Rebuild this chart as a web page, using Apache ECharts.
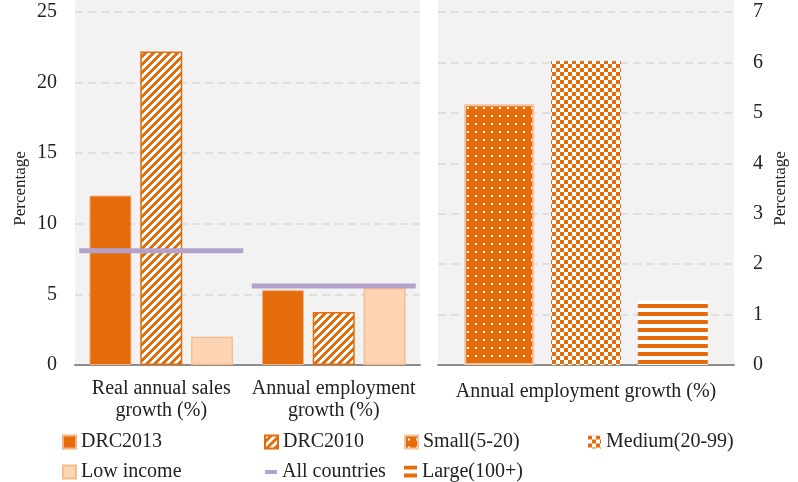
<!DOCTYPE html>
<html><head><meta charset="utf-8">
<script src="https://cdn.jsdelivr.net/npm/echarts@6/dist/echarts.min.js"></script>
<style>html,body{margin:0;padding:0;background:#fff}#c{width:798px;height:482px}</style>
</head><body><div id="c"></div>
<script>
// ---- data ----
const leftCategories = ['Real annual sales\ngrowth (%)', 'Annual employment\ngrowth (%)'];
const drc2013 = [12.0, 5.3];
const drc2010 = [22.2, 3.75];
const lowIncome = [2.0, 5.45];
const allCountries = [8.1, 5.6];
const rightCategories = ['Annual employment growth (%)'];
const small = [5.17];
const medium = [6.03];
const large = [1.28];
const leftTicks = {min: 0, max: 25, interval: 5};
const rightTicks = {min: 0, max: 7, interval: 1};

// ---- styles ----
const ORANGE = '#e46c0a';
const FONT = '"Liberation Serif", "DejaVu Serif", serif';

function tile(w, h, fn) {
  const c = document.createElement('canvas');
  c.width = w; c.height = h;
  const ctx = c.getContext('2d');
  for (let y = 0; y < h; y++) for (let x = 0; x < w; x++) {
    ctx.fillStyle = fn(x, y) ? ORANGE : '#ffffff';
    ctx.fillRect(x, y, 1, 1);
  }
  return {image: c, repeat: 'repeat'};
}
const hatch = tile(8, 8, (x, y) => ((x + y) % 8) >= 4);
const dots = tile(8, 8, (x, y) => !((x === 3 || x === 4) && (y === 3 || y === 4)));
const checker = tile(8, 8, (x, y) => ((Math.floor(x / 4) + Math.floor(y / 4)) % 2) === 0);
const stripes = tile(8, 8, (x, y) => y < 4);

const chart = echarts.init(document.getElementById('c'), null, {renderer: 'canvas'});

const txt = {fontFamily: FONT, fontSize: 20, color: '#222'};
function lg(name, left, top, extra) {
  const ts = {fontFamily: FONT, fontSize: 20, color: '#222'};
  return Object.assign({
    data: [{name: name, textStyle: ts, icon: 'rect'}], left: left, top: top, itemWidth: 13, itemHeight: 13, itemGap: 0,
    textStyle: ts, selectedMode: false, padding: 0
  }, extra || {});
}
const splitLine = {show: true, lineStyle: {color: '#d9d9d9', width: 1.5, type: [8, 5]}};

chart.setOption({
  animation: false,
  backgroundColor: '#ffffff',
  textStyle: {fontFamily: FONT},
  graphic: [
    {type: 'rect', shape: {x: 75, y: 0, width: 345, height: 365}, style: {fill: '#f2f2f2'}, z: -10},
    {type: 'rect', shape: {x: 438, y: 0, width: 296, height: 365}, style: {fill: '#f2f2f2'}, z: -10}
  ],
  grid: [
    {left: 75, right: 378, top: 12, bottom: 117},
    {left: 438, right: 64, top: 12, bottom: 117}
  ],
  legend: [
    lg('DRC2013', 62, 432),
    lg('DRC2010', 264, 432),
    lg('Small(5-20)', 404, 432),
    lg('Medium(20-99)', 588, 432),
    lg('Low income', 62, 462),
    lg('All countries', 265, 462, {itemWidth: 12, itemHeight: 4}),
    lg('Large(100+)', 404, 462)
  ],
  xAxis: [
    {type: 'category', gridIndex: 0, data: leftCategories,
     axisLine: {lineStyle: {color: '#8c8c8c', width: 2}}, axisTick: {show: false},
     axisLabel: Object.assign({}, txt, {margin: 13, lineHeight: 22, interval: 0})},
    {type: 'category', gridIndex: 1, data: rightCategories,
     axisLine: {lineStyle: {color: '#8c8c8c', width: 2}}, axisTick: {show: false},
     axisLabel: Object.assign({}, txt, {margin: 17, interval: 0})}
  ],
  yAxis: [
    {type: 'value', gridIndex: 0, min: leftTicks.min, max: leftTicks.max, interval: leftTicks.interval,
     axisLine: {show: false}, axisTick: {show: false}, splitLine: splitLine,
     axisLabel: Object.assign({}, txt, {margin: 18}),
     name: 'Percentage', nameLocation: 'middle', nameRotate: 90, nameGap: 46,
     nameTextStyle: {fontFamily: FONT, fontSize: 17, color: '#222'}},
    {type: 'value', gridIndex: 1, position: 'right', min: rightTicks.min, max: rightTicks.max, interval: rightTicks.interval,
     axisLine: {show: false}, axisTick: {show: false}, splitLine: splitLine,
     axisLabel: Object.assign({}, txt, {margin: 19}),
     name: 'Percentage', nameLocation: 'middle', nameRotate: 90, nameGap: 38,
     nameTextStyle: {fontFamily: FONT, fontSize: 17, color: '#222'}}
  ],
  series: [
    {name: 'DRC2013', type: 'bar', xAxisIndex: 0, yAxisIndex: 0, data: drc2013,
     barWidth: 42, barGap: '21%',
     itemStyle: {color: ORANGE, borderColor: '#f4b183', borderWidth: 1}},
    {name: 'DRC2010', type: 'bar', xAxisIndex: 0, yAxisIndex: 0, data: drc2010,
     barWidth: 42, barGap: '21%',
     itemStyle: {color: hatch, borderColor: ORANGE, borderWidth: 1.5}},
    {name: 'Low income', type: 'bar', xAxisIndex: 0, yAxisIndex: 0, data: lowIncome,
     barWidth: 42, barGap: '21%',
     itemStyle: {color: '#fdd5b4', borderColor: '#f9bd8d', borderWidth: 1.5}},
    {name: 'All countries', type: 'scatter', xAxisIndex: 0, yAxisIndex: 0, data: allCountries,
     symbol: 'rect', symbolSize: [164, 5], z: 5,
     itemStyle: {color: '#b3a3cc', opacity: 1}},
    {name: 'Small(5-20)', type: 'bar', xAxisIndex: 1, yAxisIndex: 1, data: small,
     barWidth: 70, barGap: '24%',
     itemStyle: {color: dots, borderColor: '#f8c39c', borderWidth: 2}},
    {name: 'Medium(20-99)', type: 'bar', xAxisIndex: 1, yAxisIndex: 1, data: medium,
     barWidth: 70, barGap: '24%',
     itemStyle: {color: checker}},
    {name: 'Large(100+)', type: 'bar', xAxisIndex: 1, yAxisIndex: 1, data: large,
     barWidth: 70, barGap: '24%',
     itemStyle: {color: stripes}}
  ]
});
</script>
</body></html>
